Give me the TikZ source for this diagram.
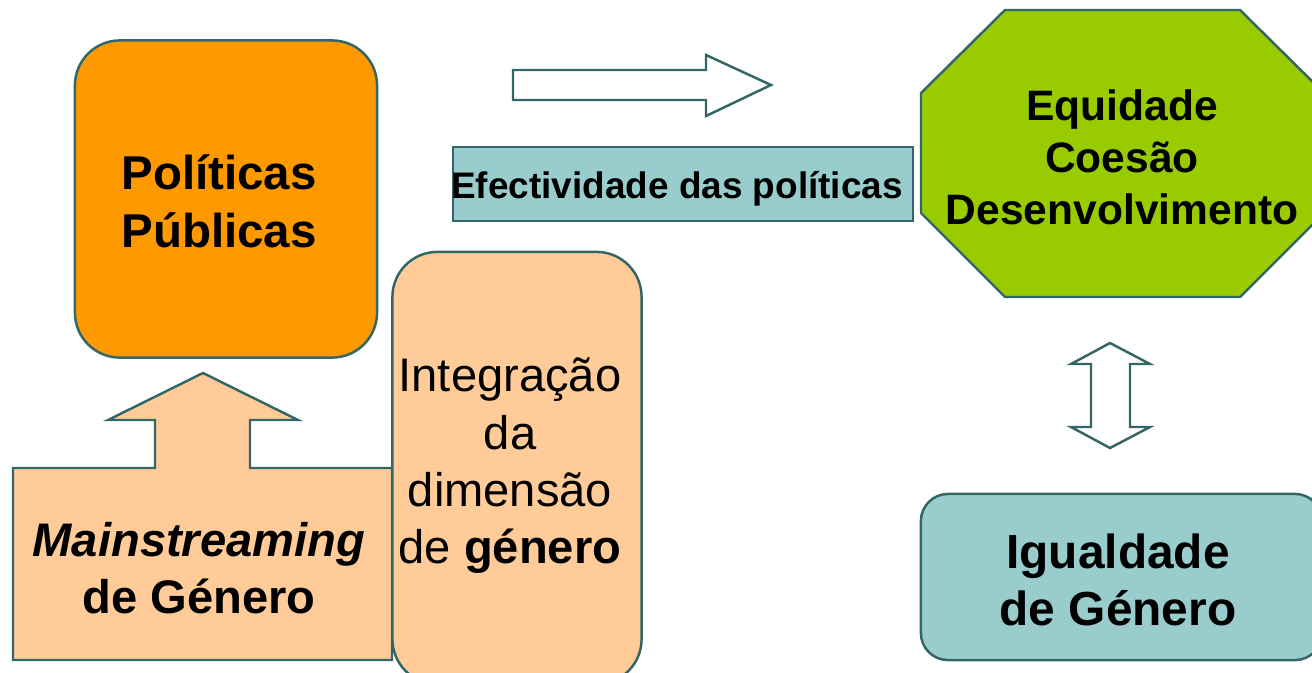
\documentclass[tikz,border=0pt]{standalone}
\usepackage{fontspec}
\setmainfont{Liberation Sans}

\definecolor{edgeteal}{RGB}{51,102,102}
\definecolor{polorange}{RGB}{255,153,0}
\definecolor{peach}{RGB}{255,204,153}
\definecolor{paleteal}{RGB}{153,204,204}
\definecolor{limegreen}{RGB}{153,204,0}

\begin{document}
\begin{tikzpicture}[x=0.01cm, y=-0.01cm, line join=miter,
	shapeline/.style={draw=edgeteal, line width=0.7pt},
	roundbox/.style={shapeline, rounded corners=0.45cm, inner sep=0pt},
	bigtext/.style={align=center, font=\fontsize{13.4}{16.3}\selectfont}]

	% ---- frame

	\useasboundingbox (0,0) rectangle (1312,672);

	% ---- coordinates

	\coordinate (O1) at (1005,10);
	\coordinate (O2) at (1240,10);
	\coordinate (O3) at (1324,93);
	\coordinate (O4) at (1324,213);
	\coordinate (O5) at (1240,297);
	\coordinate (O6) at (1005,297);
	\coordinate (O7) at (921,213);
	\coordinate (O8) at (921,93);

	% ---- public policies

	\node[roundbox, fill=polorange, minimum width=3.02cm, minimum height=3.17cm] (pol)
		at (226,199) {};
	\node[bigtext, font=\fontsize{13.5}{16.5}\selectfont\bfseries] (poltext)
		at (219,201) {Políticas\\Públicas};

	% ---- mainstreaming with up arrow

	\draw[shapeline, fill=peach] (13,468) -- (155,468) -- (155,420) -- (108,420)
		-- (203,373) -- (298,420) -- (250,420) -- (250,468) -- (392,468)
		-- (392,660) -- (13,660) -- cycle;
	\node[bigtext] (main) at (199,568)
		{\textbf{\textit{Mainstreaming}}\\\textbf{de Género}};

	% ---- integration

	\node[roundbox, fill=peach, minimum width=2.49cm, minimum height=4.32cm] (integ)
		at (517,468) {};
	\node[bigtext] (integtext) at (510,466)
		{Integração\\da\\dimensão\\de \textbf{género}};

	% ---- right arrow

	\draw[shapeline, fill=white] (513,70) -- (706,70) -- (706,55) -- (771,85)
		-- (706,116) -- (706,100) -- (513,100) -- cycle;

	% ---- effectiveness

	\node[shapeline, fill=paleteal, minimum width=4.6cm, minimum height=0.74cm,
		inner sep=0pt] (efec) at (683,184) {};
	\node[font=\fontsize{10.5}{12}\selectfont\bfseries] (efectext) at (677,189)
		{Efectividade das políticas};

	% ---- octagon

	\draw[shapeline, fill=limegreen] (O1) -- (O2) -- (O3) -- (O4) -- (O5) -- (O6)
		-- (O7) -- (O8) -- cycle;
	\node[align=center, font=\fontsize{12.1}{14.8}\selectfont\bfseries] (goals)
		at (1122,157) {Equidade\\Coesão\\Desenvolvimento};

	% ---- double arrow

	\draw[shapeline, fill=white] (1110,343) -- (1150,364) -- (1130,364) -- (1130,427)
		-- (1150,427) -- (1110,448) -- (1071,427) -- (1091,427) -- (1091,364)
		-- (1071,364) -- cycle;

	% ---- equality

	\node[roundbox, rounded corners=0.27cm, fill=paleteal, minimum width=4.01cm,
		minimum height=1.66cm] (igual) at (1121.5,577) {};
	\node[bigtext, font=\fontsize{13.6}{16.3}\selectfont\bfseries] (igualtext)
		at (1118,580) {Igualdade\\de Género};

\end{tikzpicture}
\end{document}
